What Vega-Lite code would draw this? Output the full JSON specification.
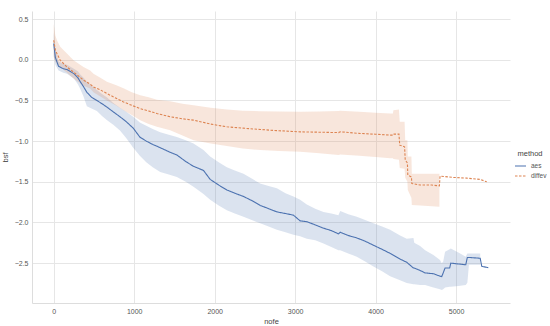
{
  "$schema": "https://vega.github.io/schema/vega-lite/v6.json",
  "width": 478,
  "height": 292,
  "autosize": {"type": "none"},
  "padding": {"left": 32, "top": 11, "right": 40, "bottom": 23},
  "background": "white",
  "config": {
    "font": "Liberation Sans",
    "view": {"stroke": null},
    "axis": {
      "grid": true,
      "gridColor": "#e6e6e6",
      "gridWidth": 1,
      "domainColor": "#dddddd",
      "domainWidth": 1,
      "ticks": false,
      "labelFontSize": 7,
      "labelColor": "#555555",
      "titleFontSize": 7.5,
      "titleFontWeight": "normal",
      "titleColor": "#444444"
    }
  },
  "data": {
    "values": [
      {"method": "aes", "nofe": 0, "bsf": 0.2, "lo": 0.05, "hi": 0.34},
      {"method": "aes", "nofe": 20, "bsf": 0.03, "lo": -0.06, "hi": 0.12},
      {"method": "aes", "nofe": 60, "bsf": -0.08, "lo": -0.13, "hi": -0.02},
      {"method": "aes", "nofe": 120, "bsf": -0.11, "lo": -0.16, "hi": -0.05},
      {"method": "aes", "nofe": 165, "bsf": -0.12, "lo": -0.17, "hi": -0.06},
      {"method": "aes", "nofe": 250, "bsf": -0.17, "lo": -0.23, "hi": -0.11},
      {"method": "aes", "nofe": 300, "bsf": -0.22, "lo": -0.3, "hi": -0.14},
      {"method": "aes", "nofe": 330, "bsf": -0.27, "lo": -0.36, "hi": -0.18},
      {"method": "aes", "nofe": 370, "bsf": -0.33, "lo": -0.45, "hi": -0.22},
      {"method": "aes", "nofe": 412, "bsf": -0.4, "lo": -0.57, "hi": -0.27},
      {"method": "aes", "nofe": 470, "bsf": -0.46, "lo": -0.6, "hi": -0.32},
      {"method": "aes", "nofe": 536, "bsf": -0.5, "lo": -0.63, "hi": -0.37},
      {"method": "aes", "nofe": 600, "bsf": -0.54, "lo": -0.69, "hi": -0.42},
      {"method": "aes", "nofe": 659, "bsf": -0.58, "lo": -0.74, "hi": -0.46},
      {"method": "aes", "nofe": 740, "bsf": -0.64, "lo": -0.8, "hi": -0.53},
      {"method": "aes", "nofe": 823, "bsf": -0.7, "lo": -0.87, "hi": -0.59},
      {"method": "aes", "nofe": 900, "bsf": -0.76, "lo": -0.96, "hi": -0.64},
      {"method": "aes", "nofe": 988, "bsf": -0.84, "lo": -1.08, "hi": -0.7},
      {"method": "aes", "nofe": 1070, "bsf": -0.95, "lo": -1.18, "hi": -0.77},
      {"method": "aes", "nofe": 1150, "bsf": -1.0, "lo": -1.26, "hi": -0.81},
      {"method": "aes", "nofe": 1230, "bsf": -1.04, "lo": -1.32, "hi": -0.85},
      {"method": "aes", "nofe": 1323, "bsf": -1.08, "lo": -1.38, "hi": -0.89},
      {"method": "aes", "nofe": 1430, "bsf": -1.13, "lo": -1.41, "hi": -0.92},
      {"method": "aes", "nofe": 1530, "bsf": -1.17, "lo": -1.44, "hi": -0.95},
      {"method": "aes", "nofe": 1640, "bsf": -1.25, "lo": -1.5, "hi": -0.99},
      {"method": "aes", "nofe": 1737, "bsf": -1.31, "lo": -1.56, "hi": -1.03},
      {"method": "aes", "nofe": 1861, "bsf": -1.36, "lo": -1.65, "hi": -1.11},
      {"method": "aes", "nofe": 1944, "bsf": -1.47, "lo": -1.72, "hi": -1.19},
      {"method": "aes", "nofe": 2050, "bsf": -1.54, "lo": -1.79, "hi": -1.26},
      {"method": "aes", "nofe": 2151, "bsf": -1.6, "lo": -1.85, "hi": -1.32},
      {"method": "aes", "nofe": 2250, "bsf": -1.64, "lo": -1.89, "hi": -1.36},
      {"method": "aes", "nofe": 2358, "bsf": -1.68, "lo": -1.93, "hi": -1.4},
      {"method": "aes", "nofe": 2460, "bsf": -1.73, "lo": -1.97, "hi": -1.46},
      {"method": "aes", "nofe": 2565, "bsf": -1.79, "lo": -2.01, "hi": -1.52},
      {"method": "aes", "nofe": 2670, "bsf": -1.83, "lo": -2.05, "hi": -1.55},
      {"method": "aes", "nofe": 2773, "bsf": -1.87, "lo": -2.09, "hi": -1.58},
      {"method": "aes", "nofe": 2880, "bsf": -1.89, "lo": -2.12, "hi": -1.64},
      {"method": "aes", "nofe": 2979, "bsf": -1.91, "lo": -2.15, "hi": -1.68},
      {"method": "aes", "nofe": 3062, "bsf": -1.98, "lo": -2.17, "hi": -1.72},
      {"method": "aes", "nofe": 3145, "bsf": -1.99, "lo": -2.2, "hi": -1.78},
      {"method": "aes", "nofe": 3250, "bsf": -2.03, "lo": -2.22, "hi": -1.83},
      {"method": "aes", "nofe": 3352, "bsf": -2.07, "lo": -2.26, "hi": -1.87},
      {"method": "aes", "nofe": 3450, "bsf": -2.1, "lo": -2.3, "hi": -1.89},
      {"method": "aes", "nofe": 3538, "bsf": -2.14, "lo": -2.34, "hi": -1.91},
      {"method": "aes", "nofe": 3560, "bsf": -2.12, "lo": -2.34, "hi": -1.86},
      {"method": "aes", "nofe": 3660, "bsf": -2.16, "lo": -2.38, "hi": -1.9},
      {"method": "aes", "nofe": 3766, "bsf": -2.19, "lo": -2.42, "hi": -1.93},
      {"method": "aes", "nofe": 3870, "bsf": -2.23, "lo": -2.48, "hi": -1.97},
      {"method": "aes", "nofe": 3973, "bsf": -2.28, "lo": -2.54, "hi": -2.01},
      {"method": "aes", "nofe": 4080, "bsf": -2.33, "lo": -2.6, "hi": -2.05},
      {"method": "aes", "nofe": 4180, "bsf": -2.38, "lo": -2.66, "hi": -2.09},
      {"method": "aes", "nofe": 4304, "bsf": -2.45, "lo": -2.71, "hi": -2.16},
      {"method": "aes", "nofe": 4387, "bsf": -2.49, "lo": -2.745, "hi": -2.2},
      {"method": "aes", "nofe": 4470, "bsf": -2.56, "lo": -2.76, "hi": -2.19},
      {"method": "aes", "nofe": 4480, "bsf": -2.56, "lo": -2.76, "hi": -2.25},
      {"method": "aes", "nofe": 4553, "bsf": -2.59, "lo": -2.77, "hi": -2.29},
      {"method": "aes", "nofe": 4615, "bsf": -2.62, "lo": -2.77, "hi": -2.34},
      {"method": "aes", "nofe": 4718, "bsf": -2.63, "lo": -2.8, "hi": -2.4},
      {"method": "aes", "nofe": 4800, "bsf": -2.66, "lo": -2.82, "hi": -2.46},
      {"method": "aes", "nofe": 4822, "bsf": -2.665, "lo": -2.83, "hi": -2.5},
      {"method": "aes", "nofe": 4840, "bsf": -2.62, "lo": -2.82, "hi": -2.48},
      {"method": "aes", "nofe": 4863, "bsf": -2.56, "lo": -2.8, "hi": -2.36},
      {"method": "aes", "nofe": 4920, "bsf": -2.56, "lo": -2.79, "hi": -2.33},
      {"method": "aes", "nofe": 4934, "bsf": -2.5, "lo": -2.79, "hi": -2.32},
      {"method": "aes", "nofe": 5028, "bsf": -2.51, "lo": -2.78, "hi": -2.37},
      {"method": "aes", "nofe": 5120, "bsf": -2.52, "lo": -2.77, "hi": -2.42},
      {"method": "aes", "nofe": 5140, "bsf": -2.43, "lo": -2.74, "hi": -2.38},
      {"method": "aes", "nofe": 5160, "bsf": -2.43, "lo": -2.52, "hi": -2.38},
      {"method": "aes", "nofe": 5300, "bsf": -2.44, "lo": -2.52, "hi": -2.38},
      {"method": "aes", "nofe": 5319, "bsf": -2.54, "lo": null, "hi": null},
      {"method": "aes", "nofe": 5400, "bsf": -2.555, "lo": null, "hi": null},

      {"method": "diffev", "nofe": 0, "bsf": 0.24, "lo": 0.03, "hi": 0.44},
      {"method": "diffev", "nofe": 20, "bsf": 0.12, "lo": -0.02, "hi": 0.3},
      {"method": "diffev", "nofe": 40, "bsf": 0.076, "lo": -0.05, "hi": 0.24},
      {"method": "diffev", "nofe": 81, "bsf": -0.006, "lo": -0.09, "hi": 0.16},
      {"method": "diffev", "nofe": 164, "bsf": -0.088, "lo": -0.16, "hi": 0.076},
      {"method": "diffev", "nofe": 246, "bsf": -0.15, "lo": -0.23, "hi": -0.006},
      {"method": "diffev", "nofe": 370, "bsf": -0.25, "lo": -0.32, "hi": -0.09},
      {"method": "diffev", "nofe": 453, "bsf": -0.3, "lo": -0.353, "hi": -0.13},
      {"method": "diffev", "nofe": 494, "bsf": -0.334, "lo": -0.4, "hi": -0.17},
      {"method": "diffev", "nofe": 580, "bsf": -0.37, "lo": -0.45, "hi": -0.22},
      {"method": "diffev", "nofe": 661, "bsf": -0.415, "lo": -0.5, "hi": -0.27},
      {"method": "diffev", "nofe": 770, "bsf": -0.47, "lo": -0.56, "hi": -0.31},
      {"method": "diffev", "nofe": 867, "bsf": -0.518, "lo": -0.62, "hi": -0.35},
      {"method": "diffev", "nofe": 970, "bsf": -0.56, "lo": -0.68, "hi": -0.4},
      {"method": "diffev", "nofe": 1075, "bsf": -0.6, "lo": -0.742, "hi": -0.436},
      {"method": "diffev", "nofe": 1180, "bsf": -0.63, "lo": -0.79, "hi": -0.46},
      {"method": "diffev", "nofe": 1282, "bsf": -0.66, "lo": -0.824, "hi": -0.49},
      {"method": "diffev", "nofe": 1447, "bsf": -0.7, "lo": -0.865, "hi": -0.51},
      {"method": "diffev", "nofe": 1600, "bsf": -0.725, "lo": -0.93, "hi": -0.54},
      {"method": "diffev", "nofe": 1737, "bsf": -0.742, "lo": -0.988, "hi": -0.558},
      {"method": "diffev", "nofe": 1950, "bsf": -0.79, "lo": -1.03, "hi": -0.59},
      {"method": "diffev", "nofe": 2151, "bsf": -0.824, "lo": -1.06, "hi": -0.611},
      {"method": "diffev", "nofe": 2350, "bsf": -0.84, "lo": -1.09, "hi": -0.625},
      {"method": "diffev", "nofe": 2565, "bsf": -0.857, "lo": -1.11, "hi": -0.632},
      {"method": "diffev", "nofe": 2800, "bsf": -0.872, "lo": -1.12, "hi": -0.637},
      {"method": "diffev", "nofe": 3062, "bsf": -0.886, "lo": -1.13, "hi": -0.64},
      {"method": "diffev", "nofe": 3300, "bsf": -0.89, "lo": -1.15, "hi": -0.635},
      {"method": "diffev", "nofe": 3540, "bsf": -0.895, "lo": -1.17, "hi": -0.63},
      {"method": "diffev", "nofe": 3560, "bsf": -0.885, "lo": -1.165, "hi": -0.625},
      {"method": "diffev", "nofe": 3800, "bsf": -0.905, "lo": -1.18, "hi": -0.64},
      {"method": "diffev", "nofe": 4000, "bsf": -0.915, "lo": -1.195, "hi": -0.65},
      {"method": "diffev", "nofe": 4180, "bsf": -0.926, "lo": -1.21, "hi": -0.66},
      {"method": "diffev", "nofe": 4215, "bsf": -0.926, "lo": -1.21, "hi": -0.66},
      {"method": "diffev", "nofe": 4221, "bsf": -0.914, "lo": -1.22, "hi": -0.62},
      {"method": "diffev", "nofe": 4290, "bsf": -0.914, "lo": -1.23, "hi": -0.61},
      {"method": "diffev", "nofe": 4300, "bsf": -1.05, "lo": -1.33, "hi": -0.763},
      {"method": "diffev", "nofe": 4360, "bsf": -1.07, "lo": -1.34, "hi": -0.763},
      {"method": "diffev", "nofe": 4368, "bsf": -1.23, "lo": -1.45, "hi": -0.99},
      {"method": "diffev", "nofe": 4395, "bsf": -1.27, "lo": -1.5, "hi": -0.99},
      {"method": "diffev", "nofe": 4400, "bsf": -1.417, "lo": -1.6, "hi": -1.19},
      {"method": "diffev", "nofe": 4445, "bsf": -1.44, "lo": -1.7, "hi": -1.19},
      {"method": "diffev", "nofe": 4450, "bsf": -1.52, "lo": -1.785, "hi": -1.4},
      {"method": "diffev", "nofe": 4553, "bsf": -1.54, "lo": -1.79, "hi": -1.4},
      {"method": "diffev", "nofe": 4700, "bsf": -1.54, "lo": -1.8, "hi": -1.4},
      {"method": "diffev", "nofe": 4793, "bsf": -1.55, "lo": -1.806, "hi": -1.4},
      {"method": "diffev", "nofe": 4801, "bsf": -1.43, "lo": null, "hi": null},
      {"method": "diffev", "nofe": 4967, "bsf": -1.446, "lo": null, "hi": null},
      {"method": "diffev", "nofe": 5133, "bsf": -1.455, "lo": null, "hi": null},
      {"method": "diffev", "nofe": 5298, "bsf": -1.47, "lo": null, "hi": null},
      {"method": "diffev", "nofe": 5381, "bsf": -1.5, "lo": null, "hi": null}
    ]
  },
  "layer": [
    {
      "transform": [{"filter": "datum.lo != null"}],
      "mark": {"type": "area", "fillOpacity": 0.2, "interpolate": "linear"},
      "encoding": {
        "x": {"field": "nofe", "type": "quantitative", "scale": {"domain": [-270, 5670], "nice": false, "zero": false}},
        "y": {"field": "lo", "type": "quantitative", "scale": {"domain": [-2.99, 0.6], "nice": false, "zero": false}},
        "y2": {"field": "hi"},
        "color": {"field": "method", "type": "nominal", "title": "method", "scale": {"domain": ["aes", "diffev"], "range": ["#4c72b0", "#dd8452"]}}
      }
    },
    {
      "mark": {"type": "line", "strokeWidth": 1.1},
      "encoding": {
        "x": {"field": "nofe", "type": "quantitative", "title": "nofe",
          "axis": {"values": [0, 1000, 2000, 3000, 4000, 5000], "format": "d", "labelPadding": 4, "titlePadding": 3}},
        "y": {"field": "bsf", "type": "quantitative", "title": "bsf",
          "axis": {"values": [-2.5, -2.0, -1.5, -1.0, -0.5, 0.0, 0.5], "format": ".1f", "labelPadding": 4, "titlePadding": 5}},
        "color": {"field": "method", "type": "nominal", "title": "method",
          "legend": {"orient": "none", "legendX": 482, "legendY": 139, "symbolType": "stroke", "symbolSize": 121, "symbolStrokeWidth": 1.1, "symbolOpacity": 1,
            "titleFontSize": 7.5, "titleFontWeight": "normal", "titleColor": "#444444", "titlePadding": 2, "titleAnchor": "middle",
            "labelFontSize": 6.5, "labelColor": "#555555", "labelOffset": 4, "rowPadding": -2}},
        "strokeDash": {"field": "method", "type": "nominal", "title": "method",
          "scale": {"domain": ["aes", "diffev"], "range": [[1, 0], [2.5, 1.5]]},
          "legend": {"orient": "none", "legendX": 482, "legendY": 139, "symbolType": "stroke", "symbolSize": 121, "symbolStrokeWidth": 1.1, "symbolOpacity": 1,
            "titleFontSize": 7.5, "titleFontWeight": "normal", "titleColor": "#444444", "titlePadding": 2, "titleAnchor": "middle",
            "labelFontSize": 6.5, "labelColor": "#555555", "labelOffset": 4, "rowPadding": -2}}
      }
    }
  ]
}
